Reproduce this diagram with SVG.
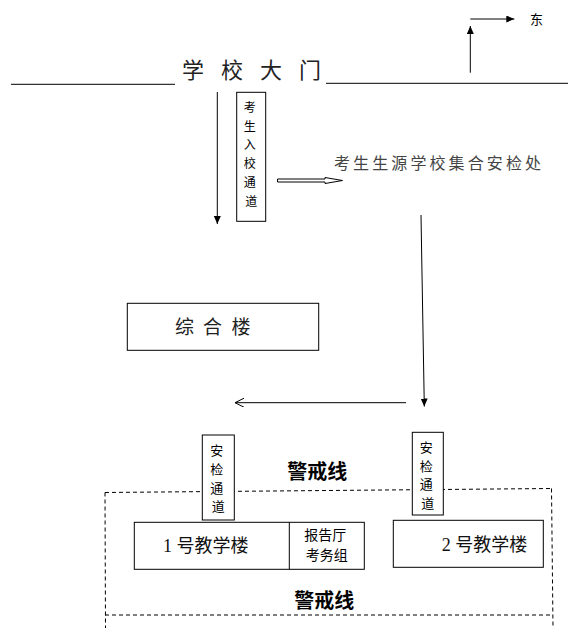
<svg xmlns="http://www.w3.org/2000/svg" width="577" height="628" viewBox="0 0 577 628">
<defs>
<marker id="arrowFilled" markerUnits="userSpaceOnUse" markerWidth="9" markerHeight="8" refX="8" refY="3.5" orient="auto">
<path d="M0,0 L8,3.5 L0,7 z" fill="#000"/>
</marker>
<marker id="arrowOpen" markerUnits="userSpaceOnUse" markerWidth="11" markerHeight="11" refX="9" refY="4.5" orient="auto">
<path d="M0,0 L9,4.5 L0,9" fill="none" stroke="#000" stroke-width="1"/>
</marker>
</defs>
<style>
.cjk{font-family:"Noto Sans CJK SC","Noto Sans",sans-serif;}
.mixed{font-family:"Liberation Serif","Noto Sans CJK SC",serif;}
.box{fill:#fff;stroke:#000;stroke-width:1;}
.line{stroke:#000;stroke-width:1;fill:none;}
.dash{stroke:#000;stroke-width:1;stroke-dasharray:4 3;fill:none;}
.warn{font-weight:bold;font-size:20px;fill:#000;}
</style>
<rect width="577" height="628" fill="#fff"/>

<g id="guard-area">
<path class="dash" d="M105,492.5 L551.5,488.5"/>
<path class="dash" d="M105,492.5 L105.5,628"/>
<path class="dash" d="M551.5,488.5 L553,628"/>
<path class="dash" d="M105,615 L552.5,615"/>
</g>

<g id="gate">
<line class="line" x1="11" y1="84.3" x2="175" y2="84.3" stroke-width="1.2"/>
<line class="line" x1="326" y1="83.3" x2="568" y2="83.3" stroke-width="1.2"/>
<text class="cjk" font-size="22" fill="#222" x="182 221 260 299" y="78">学校大门</text>
</g>

<g id="compass">
<line class="line" x1="470.3" y1="72.7" x2="470.3" y2="26" marker-end="url(#arrowFilled)"/>
<line class="line" x1="470.3" y1="19" x2="514.3" y2="19" marker-end="url(#arrowFilled)"/>
<text class="cjk" font-size="13" x="530" y="23.5" fill="#000">东</text>
</g>

<g id="connectors">
<line class="line" x1="217.3" y1="92" x2="217.3" y2="224" marker-end="url(#arrowFilled)"/>
<polygon class="line" points="277.5,179 325,179 325,177.5 342.5,180.5 325,183.5 325,182 277.5,182"/>
<line class="line" x1="421" y1="215" x2="424.3" y2="406.5" marker-end="url(#arrowFilled)"/>
<line class="line" x1="406" y1="402.7" x2="235" y2="402.7" marker-end="url(#arrowOpen)"/>
</g>

<g id="entry-channel">
<rect class="box" x="236.7" y="92.3" width="29" height="129"/>
<text class="cjk" font-size="12" text-anchor="middle" fill="#000">
<tspan x="251.2" y="111.5">考</tspan>
<tspan x="251.2" y="130.5">生</tspan>
<tspan x="251.2" y="148.5">入</tspan>
<tspan x="251.2" y="167.5">校</tspan>
<tspan x="251.2" y="186.5">通</tspan>
<tspan x="251.2" y="205.5">道</tspan>
</text>
</g>

<g id="assembly-point">
<text class="cjk" font-size="16" fill="#444" x="334" y="168.6" letter-spacing="3.1">考生生源学校集合安检处</text>
</g>

<g id="general-building">
<rect class="box" x="127.3" y="303.3" width="191.4" height="47"/>
<text class="cjk" font-size="19" fill="#222" x="175 203 231.5" y="333.9">综合楼</text>
</g>

<g id="security-left">
<rect class="box" x="202.3" y="435" width="32" height="85"/>
<text class="cjk" font-size="13" text-anchor="middle" fill="#000">
<tspan x="218.3" y="455">安</tspan>
<tspan x="218.3" y="474">检</tspan>
<tspan x="218.3" y="492.7">通</tspan>
<tspan x="218.3" y="511">道</tspan>
</text>
</g>

<g id="security-right">
<rect class="box" x="412.3" y="432.3" width="31" height="82.7"/>
<text class="cjk" font-size="13" text-anchor="middle" fill="#000">
<tspan x="427.8" y="451.7">安</tspan>
<tspan x="427.8" y="470.7">检</tspan>
<tspan x="427.8" y="489">通</tspan>
<tspan x="427.8" y="507.7">道</tspan>
</text>
</g>

<g id="warning-top">
<text class="cjk warn" x="317.3" y="478.6" text-anchor="middle">警戒线</text>
</g>

<g id="building-1">
<rect class="box" x="134.3" y="522.3" width="230" height="47"/>
<line class="line" x1="289.3" y1="522.3" x2="289.3" y2="569.3"/>
<text class="mixed" font-size="18" fill="#111" x="163" y="552.3">1 号教学楼</text>
</g>

<g id="report-hall">
<text class="cjk" font-size="14" text-anchor="middle" fill="#000">
<tspan x="326.8" y="540.3">报告厅</tspan>
<tspan x="326.8" y="560.3">考务组</tspan>
</text>
</g>

<g id="building-2">
<rect class="box" x="393.3" y="520.3" width="150" height="47"/>
<text class="mixed" font-size="18" fill="#111" x="441.7" y="550.8">2 号教学楼</text>
</g>

<g id="warning-bottom">
<text class="cjk warn" x="324.2" y="607.6" text-anchor="middle">警戒线</text>
</g>
</svg>
